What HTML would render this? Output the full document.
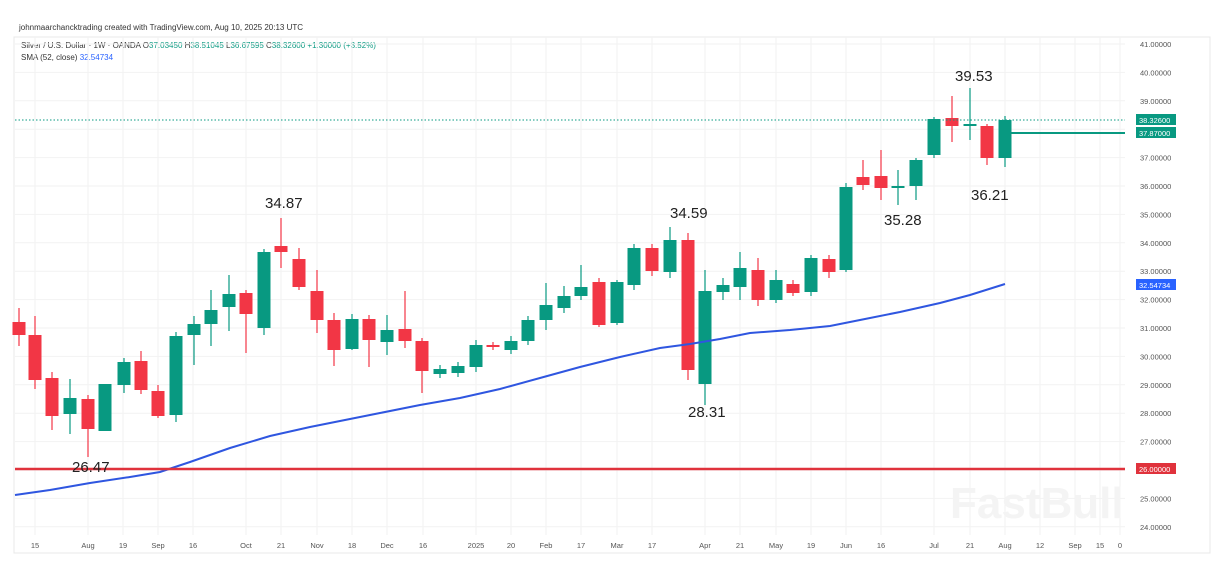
<!DOCTYPE html>
<html><head><meta charset="utf-8"><style>
html,body{margin:0;padding:0;background:#fff;width:1220px;height:567px;overflow:hidden;font-family:"Liberation Sans",sans-serif}
</style></head><body>
<svg id="s" width="1220" height="567" xmlns="http://www.w3.org/2000/svg" font-family="Liberation Sans, sans-serif">
<rect x="0" y="0" width="1220" height="567" fill="#fff"/>
<text x="19" y="30" font-size="8" fill="#333">johnmaarchancktrading created with TradingView.com, Aug 10, 2025 20:13 UTC</text>
<rect x="14" y="37" width="1196" height="516" fill="none" stroke="#e8e8e8"/>
<text x="21" y="48" font-size="8" fill="#333">Silver / U.S. Dollar · 1W · OANDA  O<tspan fill="#089981">37.03450</tspan>  H<tspan fill="#089981">38.51045</tspan>  L<tspan fill="#089981">36.67595</tspan>  C<tspan fill="#089981">38.32600  +1.30000 (+3.52%)</tspan></text>
<text x="21" y="60" font-size="8" fill="#333">SMA (52, close)  <tspan fill="#2962ff">32.54734</tspan></text>
<g id="grid"></g>
<g id="c"></g>
<polyline fill="none" stroke="#2f56e0" stroke-width="2" points="15,495 50,490 90,483 130,477 160,472 190,462 230,448 270,436 310,427 350,419 380,413 420,405 460,398 500,389 540,378 580,367 620,357 660,348 690,344 720,339 750,333 790,330 830,326 860,320 900,312 940,303 970,295 1005,284"/>
<line x1="15" y1="469" x2="1125" y2="469" stroke="#e0323c" stroke-width="2.5"/>
<line x1="15" y1="120" x2="1125" y2="120" stroke="#089981" stroke-width="1" stroke-dasharray="1.5,2"/>
<line x1="1005" y1="133" x2="1125" y2="133" stroke="#089981" stroke-width="2"/>
<g font-size="15" fill="#222">
<text x="265" y="208">34.87</text>
<text x="72" y="472">26.47</text>
<text x="670" y="218">34.59</text>
<text x="688" y="417">28.31</text>
<text x="955" y="81">39.53</text>
<text x="884" y="225">35.28</text>
<text x="971" y="200">36.21</text>
</g>
<text x="950" y="518" font-size="44" font-weight="bold" fill="#f4f4f4">FastBull</text>
<g id="ax" font-size="7.5" fill="#555"></g>
<rect x="1136" y="114" width="40" height="11" fill="#089981"/><text x="1139" y="123" font-size="7.5" fill="#fff">38.32600</text>
<rect x="1136" y="127" width="40" height="11" fill="#089981"/><text x="1139" y="136" font-size="7.5" fill="#fff">37.87000</text>
<rect x="1136" y="279" width="40" height="11" fill="#2962ff"/><text x="1139" y="288" font-size="7.5" fill="#fff">32.54734</text>
<rect x="1136" y="463" width="40" height="11" fill="#e0323c"/><text x="1139" y="472" font-size="7.5" fill="#fff">26.00000</text>
<g id="xl" font-size="7.5" fill="#555"></g>
</svg>
<script>
var ns="http://www.w3.org/2000/svg";
function el(p,t,a,txt){var e=document.createElementNS(ns,t);for(var k in a)e.setAttribute(k,a[k]);if(txt!==undefined)e.textContent=txt;document.getElementById(p).appendChild(e);}
for(var p=41;p>=24;p--){var y=44+(41-p)*28.4;el("grid","line",{x1:15,x2:1125,y1:y,y2:y,stroke:"#f2f2f2"});
 if(p!=26&&p!=38)el("ax","text",{x:1140,y:y+3},p.toFixed(5));}
var xl=[["15",35],["Aug",88],["19",123],["Sep",158],["16",193],["Oct",246],["21",281],["Nov",317],["18",352],["Dec",387],["16",423],["2025",476],["20",511],["Feb",546],["17",581],["Mar",617],["17",652],["Apr",705],["21",740],["May",776],["19",811],["Jun",846],["16",881],["Jul",934],["21",970],["Aug",1005],["12",1040],["Sep",1075],["15",1100],["0",1120]];
xl.forEach(function(a){el("grid","line",{x1:a[1],x2:a[1],y1:37,y2:535,stroke:"#f2f2f2"});el("xl","text",{x:a[1],y:548,"text-anchor":"middle"},a[0]);});
var C=[[19,'r',322,335,308,346],[35,'r',335,380,316,389],[52,'r',378,416,372,430],[70,'g',398,414,379,434],[88,'r',399,429,395,457],[105,'g',384,431,384,431],[124,'g',362,385,358,393],[141,'r',361,390,351,394],[158,'r',391,416,385,418],[176,'g',336,415,332,422],[194,'g',324,335,316,365],[211,'g',310,324,290,346],[229,'g',294,307,275,331],[246,'r',293,314,290,353],[264,'g',252,328,249,335],[281,'r',246,252,218,268],[299,'r',259,287,248,290],[317,'r',291,320,270,333],[334,'r',320,350,313,366],[352,'g',319,349,314,350],[369,'r',319,340,315,367],[387,'g',330,342,315,355],[405,'r',329,341,291,348],[422,'r',341,371,338,393],[440,'g',369,374,365,378],[458,'g',366,373,362,377],[476,'g',345,367,340,372],[493,'r',345,347,342,350],[511,'g',341,350,336,354],[528,'g',320,341,316,345],[546,'g',305,320,283,330],[564,'g',296,308,286,313],[581,'g',287,296,265,300],[599,'r',282,325,278,327],[617,'g',282,323,280,325],[634,'g',248,285,244,290],[652,'r',248,271,244,276],[670,'g',240,272,227,278],[688,'r',240,370,233,380],[705,'g',291,384,270,405],[723,'g',285,292,278,300],[740,'g',268,287,252,300],[758,'r',270,300,258,306],[776,'g',280,300,270,303],[793,'r',284,293,280,296],[811,'g',258,292,255,296],[829,'r',259,272,255,278],[846,'g',187,270,183,272],[863,'r',177,185,160,190],[881,'r',176,188,150,200],[898,'g',186,188,170,205],[916,'g',160,186,158,200],[934,'g',119,155,117,158],[952,'r',118,126,96,142],[970,'g',124,126,88,140],[987,'r',126,158,124,165],[1005,'g',120,158,116,167]];
C.forEach(function(c){var col=c[1]=='r'?'#f23645':'#089981';
 el("c","line",{x1:c[0],x2:c[0],y1:c[4],y2:c[5],stroke:col,"stroke-width":1.2});
 el("c","rect",{x:c[0]-6.5,y:c[2],width:13,height:Math.max(1.5,c[3]-c[2]),fill:col});});
</script>
</body></html>
